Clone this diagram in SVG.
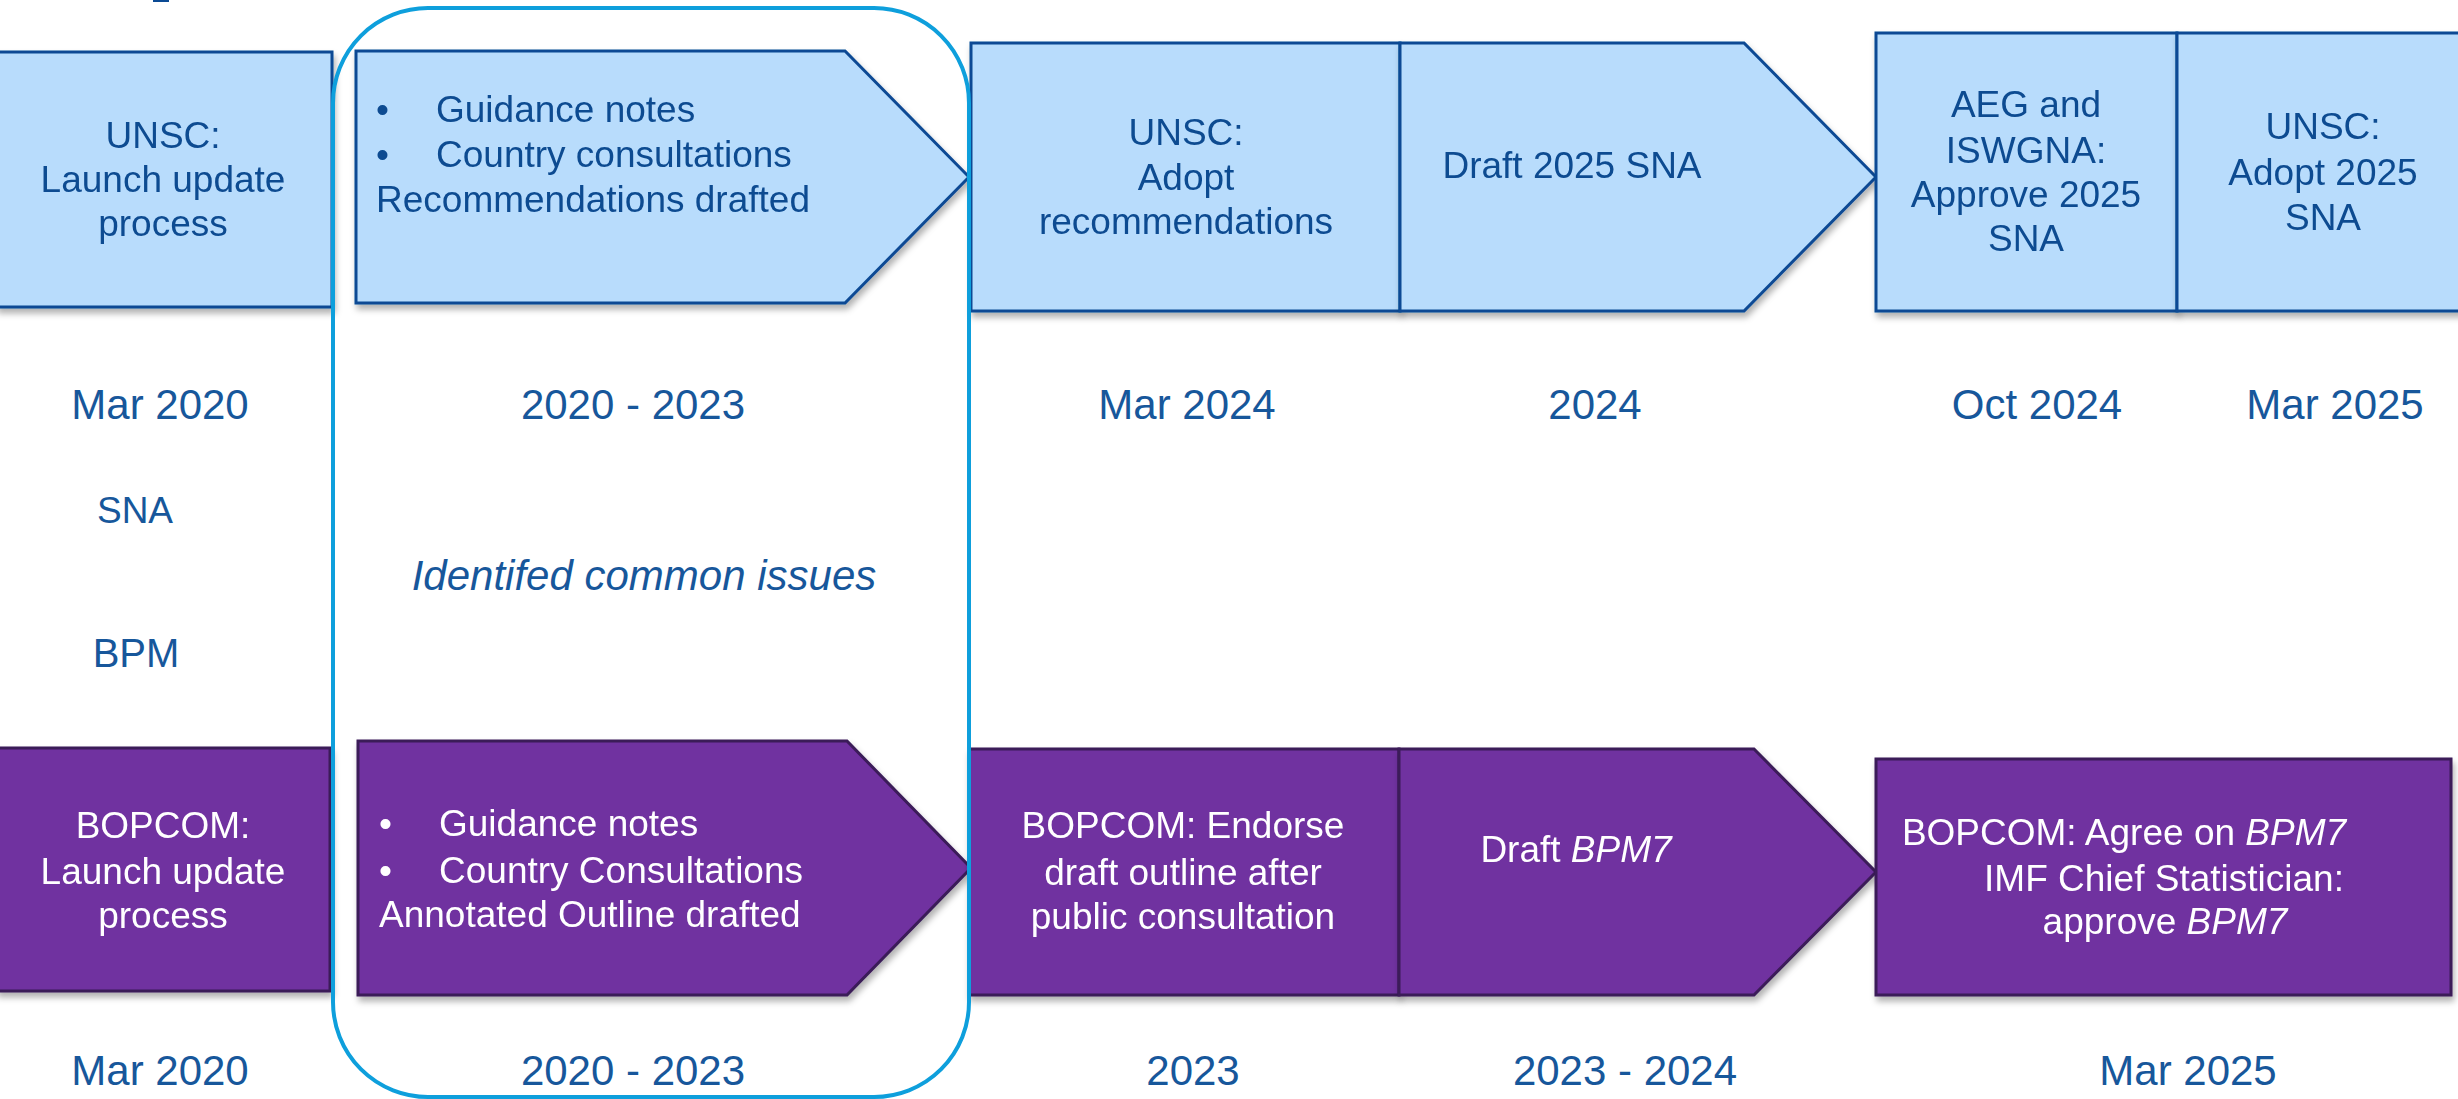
<svg xmlns="http://www.w3.org/2000/svg" width="2458" height="1099" viewBox="0 0 2458 1099">
<style>
  .lb { fill:#B8DCFC; stroke:#0B4A94; stroke-width:3; }
  .pu { fill:#7030A0; stroke:#3A1B58; stroke-width:3; }
  .tb { font-family:"Liberation Sans", Arial, sans-serif; font-size:37px; fill:#0D4B91; }
  .tw { font-family:"Liberation Sans", Arial, sans-serif; font-size:37px; fill:#FFFFFF; }
  .c { text-anchor:middle; }
  .date { font-family:"Liberation Sans", Arial, sans-serif; font-size:42px; fill:#17579B; text-anchor:middle; }
  .lane { font-family:"Liberation Sans", Arial, sans-serif; fill:#17579B; text-anchor:middle; }
  .it { font-style:italic; }
</style>
<defs>
  <filter id="sh" x="-5%" y="-5%" width="110%" height="120%">
    <feDropShadow dx="2" dy="5" stdDeviation="3" flood-color="#000" flood-opacity="0.3"/>
  </filter>
</defs>
<rect width="2458" height="1099" fill="#FFFFFF"/>
<rect x="153" y="0" width="16" height="2" fill="#0B4A94"/>

<g id="connectors">
  <line x1="0" y1="581" x2="329" y2="581" stroke="#0E9FDC" stroke-width="5" filter="url(#sh)"/>
  <line x1="973" y1="573" x2="2458" y2="573" stroke="#0E9FDC" stroke-width="5" filter="url(#sh)"/>
</g>

<g id="sna-launch" filter="url(#sh)">
  <rect class="lb" x="-3" y="52" width="335" height="255"/>
  <text class="tb c" x="163" y="148">UNSC:</text>
  <text class="tb c" x="163" y="192">Launch update</text>
  <text class="tb c" x="163" y="236">process</text>
</g>
<g id="sna-guidance" filter="url(#sh)">
  <polygon class="lb" points="356,51 845,51 969,177 845,303 356,303"/>
  <text class="tb" x="376" y="122">•</text>
  <text class="tb" x="436" y="122">Guidance notes</text>
  <text class="tb" x="376" y="167">•</text>
  <text class="tb" x="436" y="167">Country consultations</text>
  <text class="tb" x="376" y="212">Recommendations drafted</text>
</g>
<g id="sna-adopt" filter="url(#sh)">
  <rect class="lb" x="971" y="43" width="429" height="268"/>
  <text class="tb c" x="1186" y="145">UNSC:</text>
  <text class="tb c" x="1186" y="190">Adopt</text>
  <text class="tb c" x="1186" y="234">recommendations</text>
</g>
<g id="sna-draft" filter="url(#sh)">
  <polygon class="lb" points="1400,43 1744,43 1876,177 1744,311 1400,311"/>
  <text class="tb c" x="1572" y="178">Draft 2025 SNA</text>
</g>
<g id="sna-approve" filter="url(#sh)">
  <rect class="lb" x="1876" y="33" width="301" height="278"/>
  <text class="tb c" x="2026" y="117">AEG and</text>
  <text class="tb c" x="2026" y="163">ISWGNA:</text>
  <text class="tb c" x="2026" y="207">Approve 2025</text>
  <text class="tb c" x="2026" y="251">SNA</text>
</g>
<g id="sna-adopt2025" filter="url(#sh)">
  <rect class="lb" x="2177" y="33" width="300" height="278"/>
  <text class="tb c" x="2323" y="139">UNSC:</text>
  <text class="tb c" x="2323" y="185">Adopt 2025</text>
  <text class="tb c" x="2323" y="230">SNA</text>
</g>

<g id="bpm-launch" filter="url(#sh)">
  <rect class="pu" x="-3" y="748" width="333" height="243"/>
  <text class="tw c" x="163" y="838">BOPCOM:</text>
  <text class="tw c" x="163" y="884">Launch update</text>
  <text class="tw c" x="163" y="928">process</text>
</g>
<g id="bpm-guidance" filter="url(#sh)">
  <polygon class="pu" points="358,741 847,741 971,868 847,995 358,995"/>
  <text class="tw" x="379" y="836">•</text>
  <text class="tw" x="439" y="836">Guidance notes</text>
  <text class="tw" x="379" y="883">•</text>
  <text class="tw" x="439" y="883">Country Consultations</text>
  <text class="tw" x="379" y="927">Annotated Outline drafted</text>
</g>
<g id="bpm-endorse" filter="url(#sh)">
  <rect class="pu" x="969" y="749" width="430" height="246"/>
  <text class="tw c" x="1183" y="838">BOPCOM: Endorse</text>
  <text class="tw c" x="1183" y="885">draft outline after</text>
  <text class="tw c" x="1183" y="929">public consultation</text>
</g>
<g id="bpm-draft" filter="url(#sh)">
  <polygon class="pu" points="1399,749 1754,749 1876,872 1754,995 1399,995"/>
  <text class="tw c" x="1576" y="862">Draft <tspan class="it">BPM7</tspan></text>
</g>
<g id="bpm-agree" filter="url(#sh)">
  <rect class="pu" x="1876" y="759" width="575" height="236"/>
  <text class="tw c" x="2124" y="845">BOPCOM: Agree on <tspan class="it">BPM7</tspan></text>
  <text class="tw c" x="2164" y="891">IMF Chief Statistician:</text>
  <text class="tw c" x="2165" y="934">approve <tspan class="it">BPM7</tspan></text>
</g>

<g id="labels">
  <text class="date" x="160" y="419">Mar 2020</text>
  <text class="date" x="633" y="419">2020 - 2023</text>
  <text class="date" x="1187" y="419">Mar 2024</text>
  <text class="date" x="1595" y="419">2024</text>
  <text class="date" x="2037" y="419">Oct 2024</text>
  <text class="date" x="2335" y="419">Mar 2025</text>
  <text class="lane" x="135" y="523" font-size="37">SNA</text>
  <text class="lane" x="136" y="667" font-size="40">BPM</text>
  <text class="lane it" x="644" y="590" font-size="42">Identifed common issues</text>
  <text class="date" x="160" y="1085">Mar 2020</text>
  <text class="date" x="633" y="1085">2020 - 2023</text>
  <text class="date" x="1193" y="1085">2023</text>
  <text class="date" x="1625" y="1085">2023 - 2024</text>
  <text class="date" x="2188" y="1085">Mar 2025</text>
</g>

<g id="common-issues-frame">
  <rect x="333" y="8" width="636" height="1089" rx="95" ry="95" fill="none" stroke="#0E9FDC" stroke-width="4"/>
</g>
</svg>
